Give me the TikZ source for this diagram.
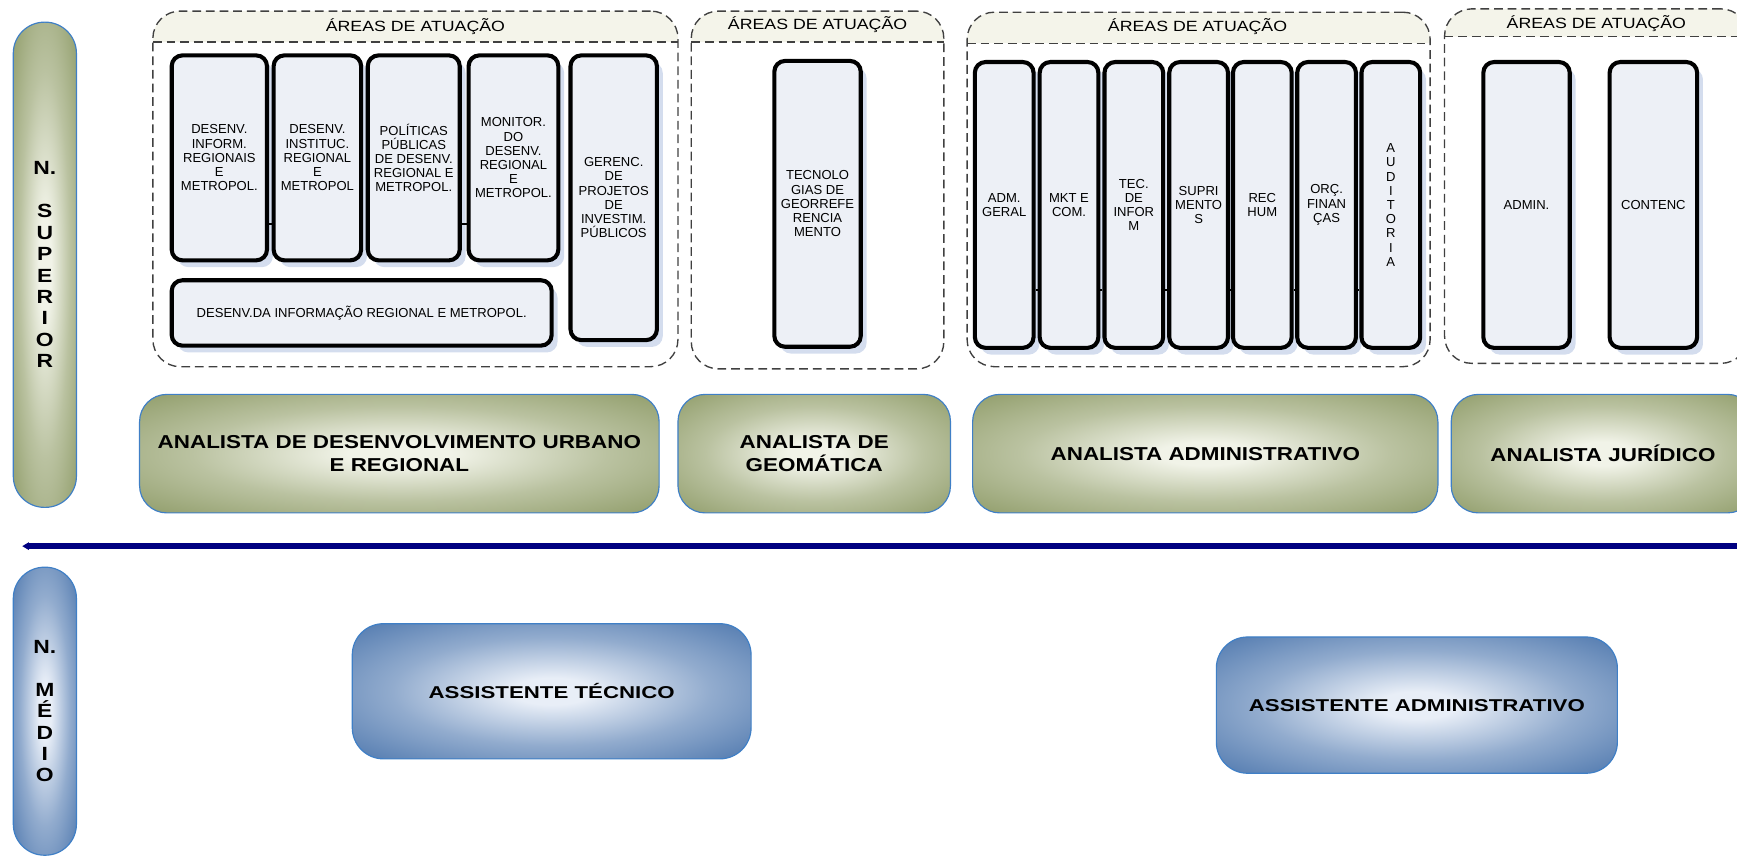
\documentclass[tikz,border=0pt]{standalone}
\usepackage{fontspec}
\setmainfont{Liberation Sans}
\newfontfamily\largo{Liberation Sans}[FakeStretch=1.2]
\newfontfamily\largob{Liberation Sans}[FakeStretch=1.3]
\usetikzlibrary{arrows.meta, shadows, positioning}

\definecolor{olvdark}{HTML}{8D9A66}
\definecolor{olvlight}{HTML}{F1F3E8}
\definecolor{bludark}{HTML}{4B75AC}
\definecolor{blulight}{HTML}{E8EEF7}
\definecolor{edgeblue}{HTML}{3F7FC6}
\definecolor{boxfill}{HTML}{EDF0F6}
\definecolor{shadowblue}{HTML}{D4DDEE}
\definecolor{hdrfill}{HTML}{F4F4EA}
\definecolor{dashgray}{HTML}{404040}
\definecolor{sepblue}{HTML}{000080}

\pgfdeclareradialshading{olivebox}{\pgfpoint{0bp}{0bp}}{color(0bp)=(olvlight); color(5bp)=(olvlight); color(20bp)=(olvdark!55!olvlight); color(37bp)=(olvdark); color(72bp)=(olvdark)}
\pgfdeclareradialshading{bluebox}{\pgfpoint{0bp}{0bp}}{color(0bp)=(blulight); color(5bp)=(blulight); color(20bp)=(bludark!55!blulight); color(37bp)=(bludark); color(72bp)=(bludark)}

\tikzset{
    grupo/.style={draw=dashgray, dash pattern=on 4.5pt off 2.5pt, line width=0.7pt, rounded corners=14pt},
    titulo/.style={font=\largo\fontsize{7.6}{9}\selectfont},
    area/.style={draw=black, line width=2.1pt, rounded corners=5.5pt, fill=boxfill,
        drop shadow={shadow xshift=3pt, shadow yshift=-3.5pt, fill=shadowblue, opacity=1},
        align=center, inner sep=1pt, font=\fontsize{6.7}{7.3}\selectfont},
    cargo/.style={draw=edgeblue, line width=0.6pt, rounded corners=14pt, shading=olivebox,
        align=center, font=\largo\bfseries\fontsize{9.6}{11.4}\selectfont},
    assist/.style={draw=edgeblue, line width=0.6pt, rounded corners=16pt, shading=bluebox,
        align=center, font=\largob\bfseries\fontsize{8.8}{10}\selectfont},
    nivel/.style={draw=edgeblue, line width=0.6pt, rounded corners=16pt,
        align=center, font=\largo\bfseries\fontsize{9.8}{11}\selectfont},
    elo/.style={draw=black, line width=0.8pt},
    linha/.style={draw=sepblue, line width=3pt}
}

\begin{document}
\begin{tikzpicture}[x=0.02cm, y=-0.02cm]
    \def \u {0.02cm}
    \useasboundingbox (0,0) rectangle (1568,778);
    \clip (0,0) rectangle (1568,778);
    % niveis
    \node[nivel, shading=olivebox, minimum width=57*\u, minimum height=438*\u] (nsup) at (40.5,239)
        {N.\\[11pt]S\\U\\P\\E\\R\\I\\O\\R};
    \node[nivel, shading=bluebox, minimum width=57*\u, minimum height=260*\u] (nmed) at (40.5,642)
        {N.\\[11pt]M\\É\\D\\I\\O};
    % grupo 1
    \fill[hdrfill, rounded corners=14pt] (138,38) -- (138,10) -- (612,10) -- (612,38);
    \node[grupo, minimum width=474*\u, minimum height=321*\u] (g1) at (375,170.5) {};
    \draw[grupo, rounded corners=0pt] (138,38) -- (612,38);
    \node[titulo] (t1) at (375,24) {ÁREAS DE ATUAÇÃO};
    \node[area, minimum width=86*\u, minimum height=185*\u] (inform) at (198,142.5)
        {DESENV.\\INFORM.\\REGIONAIS\\E\\METROPOL.};
    \node[area, minimum width=79*\u, minimum height=185*\u] (instit) at (286.5,142.5)
        {DESENV.\\INSTITUC.\\REGIONAL\\E\\METROPOL};
    \node[area, minimum width=83*\u, minimum height=185*\u] (polit) at (373.5,142.5)
        {POLÍTICAS\\PÚBLICAS\\DE DESENV.\\REGIONAL E\\METROPOL.};
    \node[area, minimum width=81*\u, minimum height=185*\u] (monit) at (463.5,142.5)
        {MONITOR.\\DO\\DESENV.\\REGIONAL\\E\\METROPOL.};
    \node[area, minimum width=78*\u, minimum height=257*\u] (gerenc) at (554,178.5)
        {GERENC.\\DE\\PROJETOS\\DE\\INVESTIM.\\PÚBLICOS};
    \node[area, minimum width=343*\u, minimum height=59*\u] (infreg) at (326.5,282.5)
        {DESENV.DA INFORMAÇÃO REGIONAL E METROPOL.};
    \coordinate (y1) at (0,202);
    \draw[elo] (inform.east |- y1) -- (instit.west |- y1);
    \draw[elo] (polit.east |- y1) -- (monit.west |- y1);
    % grupo 2
    \fill[hdrfill, rounded corners=14pt] (624,38) -- (624,10) -- (852,10) -- (852,38);
    \node[grupo, minimum width=228*\u, minimum height=323*\u] (g2) at (738,171.5) {};
    \draw[grupo, rounded corners=0pt] (624,38) -- (852,38);
    \node[titulo] (t2) at (738,22) {ÁREAS DE ATUAÇÃO};
    \node[area, minimum width=78*\u, minimum height=258*\u] (geo) at (738,184)
        {TECNOLO\\GIAS DE\\GEORREFE\\RENCIA\\MENTO};
    % grupo 3
    \fill[hdrfill, rounded corners=14pt] (873,39) -- (873,11) -- (1291,11) -- (1291,39);
    \node[grupo, minimum width=418*\u, minimum height=320*\u] (g3) at (1082,171) {};
    \draw[grupo, rounded corners=0pt] (873,39) -- (1291,39);
    \node[titulo] (t3) at (1081,24) {ÁREAS DE ATUAÇÃO};
    \node[area, minimum width=53*\u, minimum height=258*\u] (adm) at (906.5,185) {ADM.\\GERAL};
    \node[area, minimum width=53*\u, minimum height=258*\u] (mkt) at (965,185) {MKT E\\COM.};
    \node[area, minimum width=53*\u, minimum height=258*\u] (tec) at (1023.5,185) {TEC.\\DE\\INFOR\\M};
    \node[area, minimum width=53*\u, minimum height=258*\u] (supri) at (1082,185) {SUPRI\\MENTO\\S};
    \node[area, minimum width=53*\u, minimum height=258*\u] (rec) at (1139.5,185) {REC\\HUM};
    \node[area, minimum width=53*\u, minimum height=258*\u] (orc) at (1197.5,185) {ORÇ.\\FINAN\\ÇAS};
    \node[area, minimum width=53*\u, minimum height=258*\u] (aud) at (1255.5,185) {A\\U\\D\\I\\T\\O\\R\\I\\A};
    \coordinate (y2) at (0,262);
    \draw[elo] (adm.east |- y2) -- (mkt.west |- y2);
    \draw[elo] (mkt.east |- y2) -- (tec.west |- y2);
    \draw[elo] (tec.east |- y2) -- (supri.west |- y2);
    \draw[elo] (supri.east |- y2) -- (rec.west |- y2);
    \draw[elo] (rec.east |- y2) -- (orc.west |- y2);
    \draw[elo] (orc.east |- y2) -- (aud.west |- y2);
    % grupo 4
    \fill[hdrfill, rounded corners=14pt] (1304,33) -- (1304,8) -- (1578,8) -- (1578,33);
    \node[grupo, minimum width=274*\u, minimum height=320*\u] (g4) at (1441,168) {};
    \draw[grupo, rounded corners=0pt] (1304,33) -- (1578,33);
    \node[titulo] (t4) at (1441,21) {ÁREAS DE ATUAÇÃO};
    \node[area, minimum width=78*\u, minimum height=258*\u] (admin) at (1378,185) {ADMIN.};
    \node[area, minimum width=79*\u, minimum height=258*\u] (contenc) at (1492.5,185) {CONTENC};
    % cargos
    \node[cargo, minimum width=469*\u, minimum height=107*\u] (urb) at (360.5,409.5)
        {ANALISTA DE DESENVOLVIMENTO URBANO\\E REGIONAL};
    \node[cargo, minimum width=246*\u, minimum height=107*\u] (geom) at (735,409.5)
        {ANALISTA DE\\GEOMÁTICA};
    \node[cargo, minimum width=420*\u, minimum height=107*\u] (adminv) at (1088,409.5)
        {ANALISTA ADMINISTRATIVO};
    \node[cargo, minimum width=274*\u, minimum height=107*\u] (jur) at (1447,409.5)
        {ANALISTA JURÍDICO};
    % linha
    \coordinate (sepL) at (20,493);
    \coordinate (sepR) at (1570,493);
    \draw[linha, -{Triangle[length=3.5pt, width=3.8pt]}] (sepR) -- (sepL);
    % medio
    \node[assist, minimum width=360*\u, minimum height=122*\u] (asstec) at (498,624)
        {ASSISTENTE TÉCNICO};
    \node[assist, minimum width=362*\u, minimum height=123*\u] (assadm) at (1279,636.5)
        {ASSISTENTE ADMINISTRATIVO};
\end{tikzpicture}
\end{document}
